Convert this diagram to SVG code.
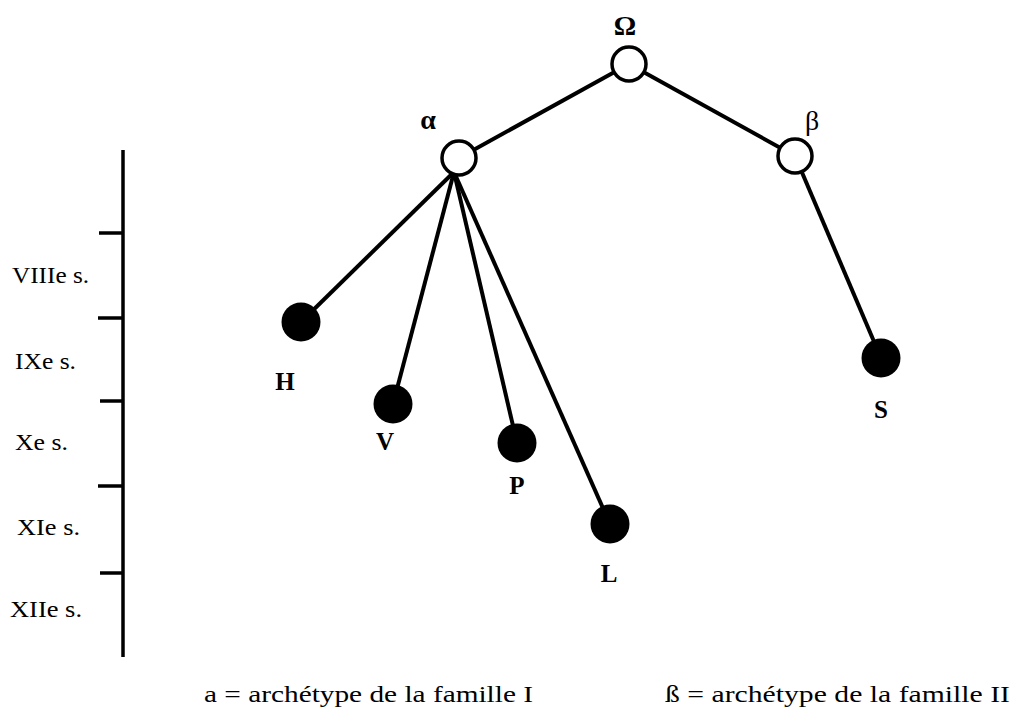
<svg xmlns="http://www.w3.org/2000/svg" width="1014" height="711" viewBox="0 0 1014 711">
<style>
.edge{stroke:#000;stroke-width:4;fill:none;stroke-linecap:butt}
.axis{stroke:#000;stroke-width:3.5;fill:none}
.hollow{fill:#fff;stroke:#000;stroke-width:3.5}
.solid{fill:#000;stroke:none}
.lab{font-family:"Liberation Serif","Times New Roman",serif;font-weight:bold;font-size:25px;fill:#000;text-anchor:middle}
.greek{font-family:"Liberation Serif","Times New Roman",serif;font-size:28px;fill:#000;text-anchor:middle}
.era{font-family:"Liberation Serif","Times New Roman",serif;font-size:24px;fill:#000}
.legend{font-family:"Liberation Serif","Times New Roman",serif;font-size:24px;fill:#000}
</style>
<rect width="1014" height="711" fill="#fff"/>
<g id="timeline">
<line class="axis" x1="123" y1="150" x2="123" y2="657"/>
<line class="axis" x1="99" y1="233" x2="123" y2="233"/>
<line class="axis" x1="98" y1="318" x2="123" y2="318"/>
<line class="axis" x1="100" y1="401" x2="123" y2="401"/>
<line class="axis" x1="98" y1="486" x2="123" y2="486"/>
<line class="axis" x1="100" y1="573" x2="123" y2="573"/>
<text class="era" x="12" y="283" textLength="77" lengthAdjust="spacingAndGlyphs">VIIIe s.</text>
<text class="era" x="15" y="369" textLength="61" lengthAdjust="spacingAndGlyphs">IXe s.</text>
<text class="era" x="15" y="450" textLength="53" lengthAdjust="spacingAndGlyphs">Xe s.</text>
<text class="era" x="17" y="535" textLength="63" lengthAdjust="spacingAndGlyphs">XIe s.</text>
<text class="era" x="10" y="617" textLength="72" lengthAdjust="spacingAndGlyphs">XIIe s.</text>
</g>
<g id="connectors">
<line class="edge" x1="629" y1="64" x2="459" y2="158"/>
<line class="edge" x1="629" y1="64" x2="795" y2="156"/>
<line class="edge" x1="795" y1="156" x2="881" y2="358"/>
<line class="edge" x1="454" y1="172" x2="301" y2="322"/>
<line class="edge" x1="454" y1="172" x2="393" y2="404"/>
<line class="edge" x1="454" y1="172" x2="517" y2="443"/>
<line class="edge" x1="454" y1="172" x2="610" y2="524"/>
</g>
<g id="node-omega">
<circle class="hollow" cx="629" cy="64" r="17"/>
<text class="greek" x="625" y="35" font-weight="bold">Ω</text>
</g>
<g id="node-alpha">
<circle class="hollow" cx="459" cy="158" r="17"/>
<text class="greek" x="428" y="129" font-weight="bold">α</text>
</g>
<g id="node-beta">
<circle class="hollow" cx="795" cy="156" r="17"/>
<text class="greek" x="812" y="130">β</text>
</g>
<g id="node-H">
<circle class="solid" cx="301" cy="322" r="19.5"/>
<text class="lab" x="285" y="390">H</text>
</g>
<g id="node-V">
<circle class="solid" cx="393" cy="404" r="19.5"/>
<text class="lab" x="385" y="450">V</text>
</g>
<g id="node-P">
<circle class="solid" cx="517" cy="443" r="19.5"/>
<text class="lab" x="517" y="494">P</text>
</g>
<g id="node-L">
<circle class="solid" cx="610" cy="524" r="19.5"/>
<text class="lab" x="609" y="582">L</text>
</g>
<g id="node-S">
<circle class="solid" cx="881" cy="358" r="19.5"/>
<text class="lab" x="881" y="418">S</text>
</g>
<g id="legend">
<text class="legend" x="204" y="702" textLength="329" lengthAdjust="spacingAndGlyphs">a = archétype de la famille I</text>
<text class="legend" x="665" y="702" textLength="345" lengthAdjust="spacingAndGlyphs">ß = archétype de la famille II</text>
</g>
</svg>
